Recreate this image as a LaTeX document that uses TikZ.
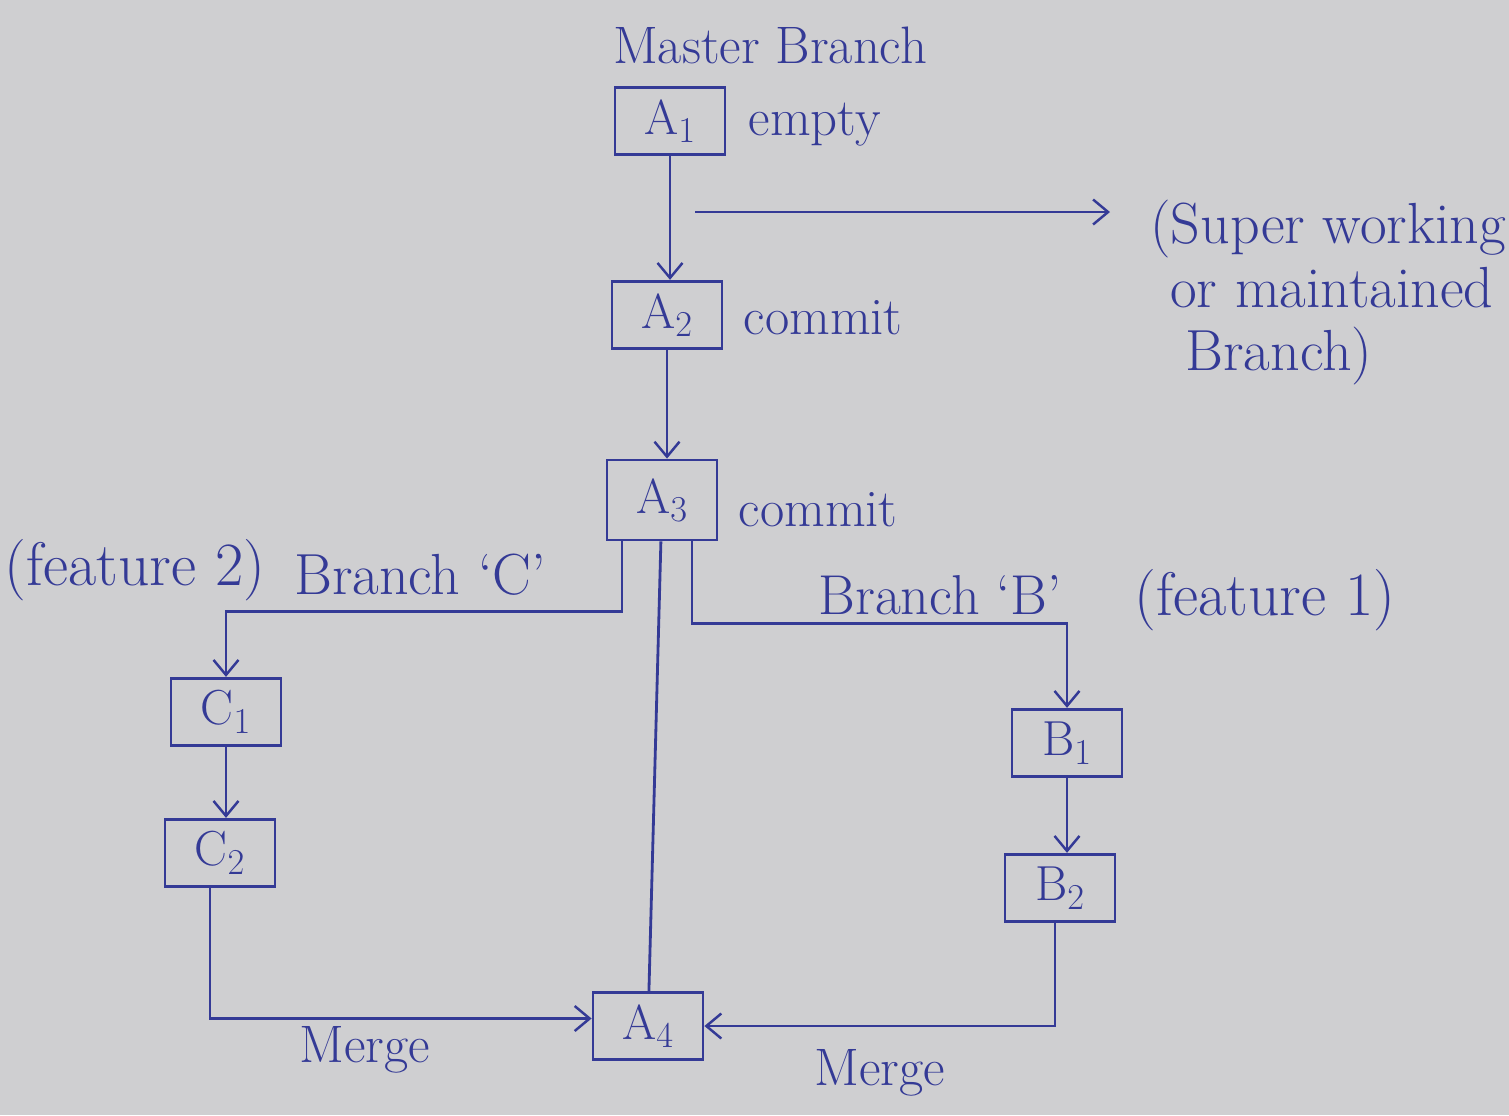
\documentclass[tikz,border=0pt]{standalone}
\usepackage{fontspec}
\usetikzlibrary{arrows.meta,calc}

\definecolor{ink}{RGB}{52,58,150}
\definecolor{paper}{RGB}{207,207,209}

\tikzset{
	commit/.style={draw=ink, line width=1.6pt, minimum width=2.2cm, minimum height=1.35cm, text=ink, font=\fontsize{28}{32}\selectfont},
	note/.style={text=ink, font=\fontsize{30}{35}\selectfont},
	wire/.style={draw=ink, line width=1.6pt},
	>={Straight Barb[length=3mm,width=5mm,line width=1.4pt]}
}

\begin{document}
\begin{tikzpicture}
			% PAPER
			\fill[paper] (0,0) rectangle (30.18,-22.3);
			\useasboundingbox (0,0) rectangle (30.18,-22.3);
			
			% MASTER BRANCH
			\node[note] (title) at (15.4,-0.9) {Master Branch};
			\node[commit] (a1) at (13.4,-2.42) {A$_1$};
			\node[commit] (a2) at (13.34,-6.3) {A$_2$};
			\node[commit, minimum height=1.6cm] (a3) at (13.24,-10.0) {A$_3$};
			\node[commit] (a4) at (12.96,-20.52) {A$_4$};
			
			% BRANCH C
			\node[commit] (c1) at (4.52,-14.24) {C$_1$};
			\node[commit] (c2) at (4.4,-17.06) {C$_2$};
			
			% BRANCH B
			\node[commit] (b1) at (21.34,-14.86) {B$_1$};
			\node[commit] (b2) at (21.2,-17.76) {B$_2$};
			
			% LABELS
			\node[note, anchor=west] (empty) at (14.85,-2.5) {empty};
			\node[note, anchor=west] (cm2) at (14.75,-6.36) {commit};
			\node[note, anchor=west] (cm3) at (14.65,-10.2) {commit};
			\node[note, font=\fontsize{33}{36}\selectfont, align=left, anchor=north west, inner sep=0pt] (super) at (23.0,-4.0) {(Super working\\ \hspace{0.4cm}or maintained\\ \hspace{0.7cm}Branch)};
			\node[note, font=\fontsize{35}{40}\selectfont] (feat2) at (2.7,-11.4) {(feature 2)};
			\node[note, font=\fontsize{33}{38}\selectfont] (brc) at (8.4,-11.5) {Branch `C'};
			\node[note, font=\fontsize{32}{38}\selectfont] (brb) at (18.8,-11.9) {Branch `B'};
			\node[note, font=\fontsize{35}{40}\selectfont] (feat1) at (25.3,-12.0) {(feature 1)};
			\node[note] (mgc) at (7.3,-21.0) {Merge};
			\node[note] (mgb) at (17.6,-21.45) {Merge};
			
			% DRAW COMMITS
			\coordinate (s0) at (13.9,-4.24); \coordinate (s1) at (22.2,-4.24);
			\path[wire, ->] (s0)--(s1);
			\path[wire, ->] (a1.south)--(a1.south |- a2.north);
			\path[wire, ->] (a2.south)--(a2.south |- a3.north);
			\path[wire] (a3)--(a4);
			\path[wire, ->] ([xshift=-0.8cm]a3.south)--++(0,-1.4) -| (c1);
			\path[wire, ->] ([xshift=0.6cm]a3.south)--++(0,-1.64) -| (b1);
			\path[wire, ->] (c1.south)--(c1.south |- c2.north);
			\path[wire, ->] (b1.south)--(b1.south |- b2.north);
			
			% DRAW MERGES
			\path[wire, ->] ([xshift=-0.2cm]c2.south) |- ([yshift=0.15cm]a4.west);
			\path[wire, ->] ([xshift=-0.1cm]b2.south) |- (a4.east);
		\end{tikzpicture}
\end{document}
